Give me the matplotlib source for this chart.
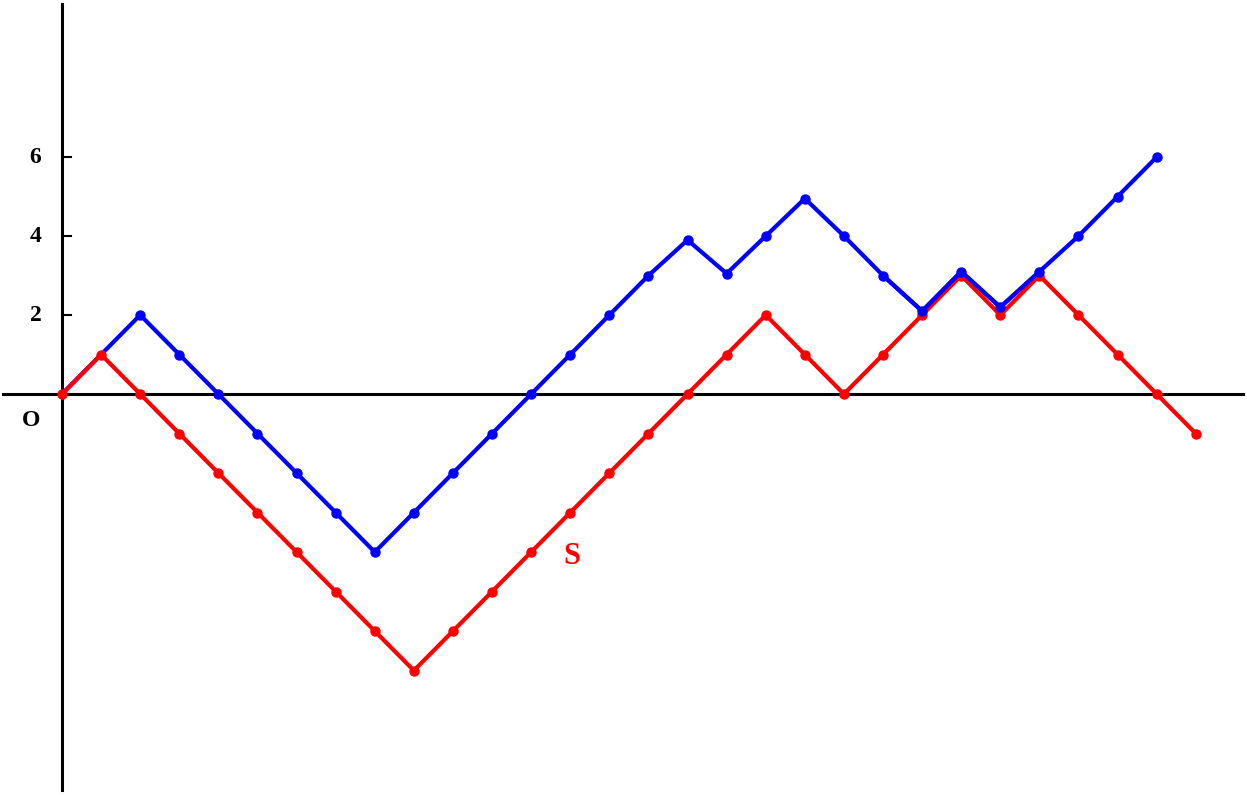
import matplotlib
matplotlib.use('agg')
import matplotlib.pyplot as plt

# path values, one per step
blue_vals = [0, 1, 2, 1, 0, -1, -2, -3, -4, -3, -2, -1, 0, 1, 2, 3, 3.9, 3.05, 4, 4.95,
             4, 3, 2.1, 3.1, 2.2, 3.1, 4, 5, 6]
red_vals = [0, 1, 0, -1, -2, -3, -4, -5, -6, -7, -6, -5, -4, -3, -2, -1, 0, 1, 2, 1,
            0, 1, 2, 3, 2, 3, 2, 1, 0, -1]
ytick_vals = [2, 4, 6]
ytick_labels = ["2", "4", "6"]

fig = plt.figure(figsize=(12.47, 7.95), dpi=100)
ax = fig.add_axes([0, 0, 1, 1])
ax.set_xlim(-1.586, 30.31)
ax.set_ylim(-10.15, 9.975)
ax.axis('off')

# axes
ax.plot([-1.51, 30.2], [0, 0], color='black', lw=2.2, zorder=1)
ax.plot([0, 0], [-10.03, 9.87], color='black', lw=2.2, zorder=1)
for v, lab in zip(ytick_vals, ytick_labels):
    ax.plot([0, 0.22], [v, v], color='black', lw=1.5, zorder=1)
    ax.text(-0.68, v, lab, ha='center', va='center', fontsize=17,
            fontweight='bold', family='Liberation Serif')
ax.text(-0.79, -0.68, "O", ha='center', va='center', fontsize=17,
        fontweight='bold', family='Liberation Serif')

# paths
bx = list(range(len(blue_vals)))
rx = list(range(len(red_vals)))
ax.plot(bx, blue_vals, color='#0000ff', lw=3, zorder=2)
ax.plot(rx, red_vals, color='#ff0000', lw=3, zorder=3)
ax.plot(rx, red_vals, 'o', color='#ff0000', ms=6.5, zorder=3)
ax.plot(bx[2:], blue_vals[2:], 'o', color='#0000ff', ms=6.5, zorder=4)
ax.plot(bx[21:26], blue_vals[21:26], color='#0000ff', lw=3, zorder=4)

ax.text(13.04, -4.1, "S", ha='center', va='center', fontsize=22,
        fontweight='bold', color='#ff0000', family='Liberation Serif')

fig.savefig("out.png", dpi=100)
